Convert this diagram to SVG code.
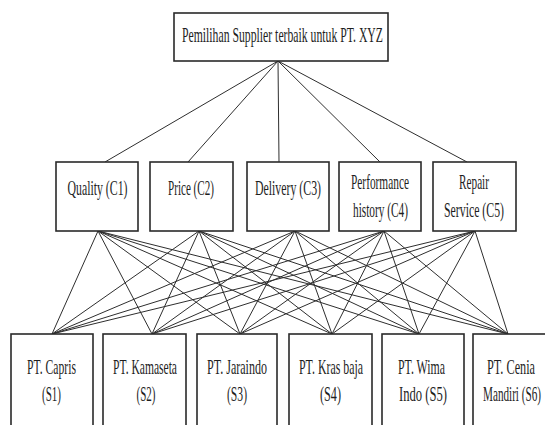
<svg xmlns="http://www.w3.org/2000/svg" width="545" height="425" viewBox="0 0 545 425">
<style>
.box{fill:#fff;stroke:#2a2a2a;stroke-width:1.6}
.t{font-family:"Liberation Serif","Times New Roman",serif;font-size:21px;fill:#1e1e1e;text-anchor:middle}
.c line{stroke:#2e2e2e;stroke-width:1}
</style>
<rect width="545" height="425" fill="#fff"/>
<g class="c" id="connectors">
<line x1="278" y1="61" x2="105" y2="162"/>
<line x1="278" y1="61" x2="188" y2="162"/>
<line x1="278" y1="61" x2="279" y2="162"/>
<line x1="278" y1="61" x2="380" y2="162"/>
<line x1="278" y1="61" x2="467" y2="162"/>
<line x1="98" y1="231" x2="52" y2="334"/><line x1="98" y1="231" x2="152" y2="334"/><line x1="98" y1="231" x2="240" y2="334"/><line x1="98" y1="231" x2="332" y2="334"/><line x1="98" y1="231" x2="419" y2="334"/><line x1="98" y1="231" x2="508" y2="334"/>
<line x1="199" y1="231" x2="52" y2="334"/><line x1="199" y1="231" x2="152" y2="334"/><line x1="199" y1="231" x2="240" y2="334"/><line x1="199" y1="231" x2="332" y2="334"/><line x1="199" y1="231" x2="419" y2="334"/><line x1="199" y1="231" x2="508" y2="334"/>
<line x1="295" y1="231" x2="52" y2="334"/><line x1="295" y1="231" x2="152" y2="334"/><line x1="295" y1="231" x2="240" y2="334"/><line x1="295" y1="231" x2="332" y2="334"/><line x1="295" y1="231" x2="419" y2="334"/><line x1="295" y1="231" x2="508" y2="334"/>
<line x1="384" y1="231" x2="52" y2="334"/><line x1="384" y1="231" x2="152" y2="334"/><line x1="384" y1="231" x2="240" y2="334"/><line x1="384" y1="231" x2="332" y2="334"/><line x1="384" y1="231" x2="419" y2="334"/><line x1="384" y1="231" x2="508" y2="334"/>
<line x1="475" y1="231" x2="52" y2="334"/><line x1="475" y1="231" x2="152" y2="334"/><line x1="475" y1="231" x2="240" y2="334"/><line x1="475" y1="231" x2="332" y2="334"/><line x1="475" y1="231" x2="419" y2="334"/><line x1="475" y1="231" x2="508" y2="334"/>
</g>
<g id="goal"><rect class="box" x="174" y="13" width="214" height="48"/><text class="t" x="282.5" y="42" textLength="201" lengthAdjust="spacingAndGlyphs">Pemilihan Supplier terbaik untuk PT. XYZ</text></g>
<g id="c1"><rect class="box" x="56" y="162" width="82" height="69"/><text class="t" x="97.5" y="195" textLength="60" lengthAdjust="spacingAndGlyphs">Quality (C1)</text></g>
<g id="c2"><rect class="box" x="150" y="162" width="83" height="69"/><text class="t" x="191" y="195" textLength="46" lengthAdjust="spacingAndGlyphs">Price (C2)</text></g>
<g id="c3"><rect class="box" x="247" y="162" width="82" height="69"/><text class="t" x="288" y="195" textLength="66" lengthAdjust="spacingAndGlyphs">Delivery (C3)</text></g>
<g id="c4"><rect class="box" x="339" y="162" width="82" height="69"/><text class="t" x="380" y="189" textLength="58" lengthAdjust="spacingAndGlyphs">Performance</text><text class="t" x="380.5" y="217" textLength="55" lengthAdjust="spacingAndGlyphs">history (C4)</text></g>
<g id="c5"><rect class="box" x="433" y="162" width="83" height="69"/><text class="t" x="474" y="189" textLength="30" lengthAdjust="spacingAndGlyphs">Repair</text><text class="t" x="474" y="217" textLength="60" lengthAdjust="spacingAndGlyphs">Service (C5)</text></g>
<g id="s1"><rect class="box" x="11" y="334" width="82" height="100"/><text class="t" x="51.5" y="374" textLength="49" lengthAdjust="spacingAndGlyphs">PT. Capris</text><text class="t" x="51.5" y="401" textLength="19" lengthAdjust="spacingAndGlyphs">(S1)</text></g>
<g id="s2"><rect class="box" x="103" y="334" width="83" height="100"/><text class="t" x="145" y="374" textLength="64" lengthAdjust="spacingAndGlyphs">PT. Kamaseta</text><text class="t" x="146" y="401" textLength="19" lengthAdjust="spacingAndGlyphs">(S2)</text></g>
<g id="s3"><rect class="box" x="197" y="334" width="80" height="100"/><text class="t" x="237" y="374" textLength="60" lengthAdjust="spacingAndGlyphs">PT. Jaraindo</text><text class="t" x="237" y="401" textLength="20" lengthAdjust="spacingAndGlyphs">(S3)</text></g>
<g id="s4"><rect class="box" x="289" y="334" width="83" height="100"/><text class="t" x="331" y="374" textLength="64" lengthAdjust="spacingAndGlyphs">PT. Kras baja</text><text class="t" x="330.5" y="401" textLength="21" lengthAdjust="spacingAndGlyphs">(S4)</text></g>
<g id="s5"><rect class="box" x="382" y="334" width="82" height="100"/><text class="t" x="421.5" y="374" textLength="47" lengthAdjust="spacingAndGlyphs">PT. Wima</text><text class="t" x="423" y="401" textLength="48" lengthAdjust="spacingAndGlyphs">Indo (S5)</text></g>
<g id="s6"><rect class="box" x="473" y="334" width="80" height="100"/><text class="t" x="511" y="374" textLength="48" lengthAdjust="spacingAndGlyphs">PT. Cenia</text><text class="t" x="512" y="401" textLength="58" lengthAdjust="spacingAndGlyphs">Mandiri (S6)</text></g>
</svg>
